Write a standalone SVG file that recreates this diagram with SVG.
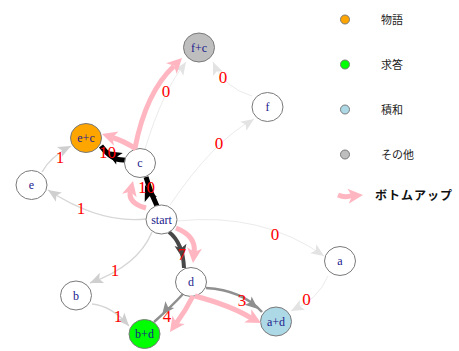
<svg xmlns="http://www.w3.org/2000/svg" xmlns:xlink="http://www.w3.org/1999/xlink" width="459" height="351" viewBox="0 0 459 351">
  <style>
    .e { fill: none; stroke-linecap: butt; }
    .w0 { stroke: #EBEBEB; stroke-width: 1; }
    .w1 { stroke: #D6D6D6; stroke-width: 1.4; }
    .w3 { stroke: #8F8F8F; stroke-width: 2.5; }
    .w7 { stroke: #484848; stroke-width: 4; }
    .w10 { stroke: #000000; stroke-width: 5; }
    .a0 { fill: #E3E3E3; }
    .a1 { fill: #CFCFCF; }
    .a3 { fill: #8F8F8F; }
    .a7 { fill: #484848; }
    .a10 { fill: #000000; }
    .pk { fill: none; stroke: #FFB6C1; stroke-width: 5; }
    .pkh { fill: #FFB6C1; }
    .node { stroke: #7A7A7A; stroke-width: 1; }
    .nl { font-family: "Liberation Serif", "Times New Roman", serif; font-size: 12px; fill: #1A1A8C; text-anchor: middle; }
    .el { font-family: "Liberation Serif", "Times New Roman", serif; font-size: 17px; fill: #FF0000; text-anchor: middle; }
    .lg { font-family: "Noto Sans CJK JP", "Noto Sans", sans-serif; font-size: 11px; fill: #222222; }
    .lgb { font-family: "Noto Sans CJK JP", "Noto Sans", sans-serif; font-size: 12px; font-weight: bold; fill: #111111; letter-spacing: 1px; }
  </style>
  <defs>
    <!-- notched arrowhead, tip at the origin, pointing along +x -->
    <path id="ah" d="M0,0 L-13,-5.5 L-10,0 L-13,5.5 Z"/>
    <path id="ph" d="M0,0 L-15,-7.5 L-11,0 L-15,7.5 Z"/>
  </defs>

  <rect width="459" height="351" fill="#FFFFFF"/>

  <!-- weighted edges -->
  <g id="connectors">
    <path class="e w1" d="M146,219 Q100,224 48,190"/>
    <use xlink:href="#ah" class="a1" transform="translate(48,190) rotate(-147)"/>

    <path class="e w1" d="M42,172 Q50,157 71,146"/>
    <use xlink:href="#ah" class="a1" transform="translate(71,146) rotate(-27)"/>

    <path class="e w0" d="M145,149 Q163,90 186,62"/>
    <use xlink:href="#ah" class="a0" transform="translate(186,62) rotate(-56)"/>

    <path class="e w0" d="M252,96 Q224,88 213,62"/>
    <use xlink:href="#ah" class="a0" transform="translate(213,62) rotate(-113)"/>

    <path class="e w0" d="M170,205 Q214,140 254,119"/>
    <use xlink:href="#ah" class="a0" transform="translate(254,119) rotate(-34)"/>

    <path class="e w0" d="M177,221 Q262,212 324,256"/>
    <use xlink:href="#ah" class="a0" transform="translate(324,256) rotate(34)"/>

    <path class="e w0" d="M328,276 Q318,300 291,311"/>
    <use xlink:href="#ah" class="a0" transform="translate(291,311) rotate(152)"/>

    <path class="e w1" d="M152,232 Q138,266 90,283"/>
    <use xlink:href="#ah" class="a1" transform="translate(90,283) rotate(157)"/>

    <path class="e w1" d="M92,304 Q112,306 129,326"/>
    <use xlink:href="#ah" class="a1" transform="translate(129,326) rotate(48)"/>

    <path class="e w10" d="M157,206 Q150,192 146,177"/>
    <use xlink:href="#ah" class="a10" transform="translate(145,185) rotate(-112) scale(1.2)"/>

    <path class="e w10" d="M125,160 Q112,161 101,146"/>
    <use xlink:href="#ah" class="a10" transform="translate(106,151) rotate(-150) scale(1.2)"/>

    <path class="e w7" d="M169,232 Q183,243 184,268"/>
    <use xlink:href="#ah" class="a7" transform="translate(183,259) rotate(80) scale(1.1)"/>

    <path class="e w3" d="M183,294 Q172,306 154,322"/>
    <use xlink:href="#ah" class="a3" transform="translate(162,315) rotate(127)"/>

    <path class="e w3" d="M206,288 Q242,290 262,312"/>
    <use xlink:href="#ah" class="a3" transform="translate(258,309) rotate(40)"/>
  </g>

  <!-- vertices -->
  <g id="nodes">
    <g id="node-fc"><ellipse class="node" cx="199" cy="47.5" rx="15.5" ry="14.5" fill="#BEBEBE"/><text class="nl" x="199" y="51.5">f+c</text></g>
    <g id="node-f"><ellipse class="node" cx="267.5" cy="107" rx="15.5" ry="14.5" fill="#FFFFFF"/><text class="nl" x="267.5" y="111">f</text></g>
    <g id="node-ec"><ellipse class="node" cx="86" cy="138" rx="15.5" ry="14.5" fill="#FFA500"/><text class="nl" x="86" y="142">e+c</text></g>
    <g id="node-c"><ellipse class="node" cx="140" cy="163" rx="15.5" ry="14.5" fill="#FFFFFF"/><text class="nl" x="140" y="167">c</text></g>
    <g id="node-e"><ellipse class="node" cx="31.5" cy="185" rx="15.5" ry="14.5" fill="#FFFFFF"/><text class="nl" x="31.5" y="189">e</text></g>
    <g id="node-start"><ellipse class="node" cx="161.5" cy="219.5" rx="15.5" ry="14.5" fill="#FFFFFF"/><text class="nl" x="161.5" y="223.5">start</text></g>
    <g id="node-a"><ellipse class="node" cx="340" cy="261" rx="15.5" ry="14.5" fill="#FFFFFF"/><text class="nl" x="340" y="265">a</text></g>
    <g id="node-b"><ellipse class="node" cx="76" cy="295.5" rx="15.5" ry="14.5" fill="#FFFFFF"/><text class="nl" x="76" y="299.5">b</text></g>
    <g id="node-d"><ellipse class="node" cx="191" cy="282" rx="15.5" ry="14.5" fill="#FFFFFF"/><text class="nl" x="191" y="286">d</text></g>
    <g id="node-bd"><ellipse class="node" cx="144.5" cy="334" rx="15.5" ry="14.5" fill="#00FF00"/><text class="nl" x="144.5" y="338">b+d</text></g>
    <g id="node-ad"><ellipse class="node" cx="276" cy="321.5" rx="15.5" ry="14.5" fill="#ADD8E6"/><text class="nl" x="276" y="325.5">a+d</text></g>
  </g>

  <!-- bottom-up path overlay -->
  <g id="bottom-up">
    <path class="pk" d="M135,148 Q146,92 174,66"/>
    <use xlink:href="#ph" class="pkh" transform="translate(182,58) rotate(-45)"/>
    <path class="pk" d="M136,149 Q124,141 112.4,137.5"/>
    <use xlink:href="#ph" class="pkh" transform="translate(102,134) rotate(-162)"/>
    <path class="pk" d="M146,208 Q128,203 130.3,191.7"/>
    <use xlink:href="#ph" class="pkh" transform="translate(133,181) rotate(-76)"/>
    <path class="pk" d="M176,228 Q196,236 194.2,252"/>
    <use xlink:href="#ph" class="pkh" transform="translate(193,263) rotate(96)"/>
    <path class="pk" d="M193,296 Q186,310 176.4,323"/>
    <use xlink:href="#ph" class="pkh" transform="translate(170,332) rotate(125)"/>
    <path class="pk" d="M195,296 Q232,306 251.2,318.1"/>
    <use xlink:href="#ph" class="pkh" transform="translate(261,323) rotate(28)"/>
  </g>

  <!-- edge weights -->
  <g id="edge-labels">
    <text class="el" x="81" y="214">1</text>
    <text class="el" x="60" y="163">1</text>
    <text class="el" x="166" y="97">0</text>
    <text class="el" x="223" y="83">0</text>
    <text class="el" x="219" y="149">0</text>
    <text class="el" x="275" y="240">0</text>
    <text class="el" x="306.5" y="305">0</text>
    <text class="el" x="115" y="276">1</text>
    <text class="el" x="118" y="321.5">1</text>
    <text class="el" x="146.5" y="193">10</text>
    <text class="el" x="107.5" y="158">10</text>
    <text class="el" x="182" y="260">7</text>
    <text class="el" x="167" y="322">4</text>
    <text class="el" x="242" y="305.5">3</text>
  </g>

  <!-- legend -->
  <g id="legend">
    <circle class="node" cx="345" cy="19.5" r="4.5" fill="#FFA500"/>
    <text class="lg" x="381" y="24">物語</text>
    <circle class="node" cx="345" cy="64.5" r="4.5" fill="#00FF00"/>
    <text class="lg" x="381" y="69">求答</text>
    <circle class="node" cx="345" cy="109.5" r="4.5" fill="#ADD8E6"/>
    <text class="lg" x="381" y="114">積和</text>
    <circle class="node" cx="345" cy="154.5" r="4.5" fill="#BEBEBE"/>
    <text class="lg" x="381" y="159">その他</text>
    <path class="pk" d="M338,195 Q345,198 352,195.5"/>
    <use xlink:href="#ph" class="pkh" transform="translate(363,195) rotate(-5)"/>
    <text class="lgb" x="375" y="199.5">ボトムアップ</text>
  </g>
</svg>
